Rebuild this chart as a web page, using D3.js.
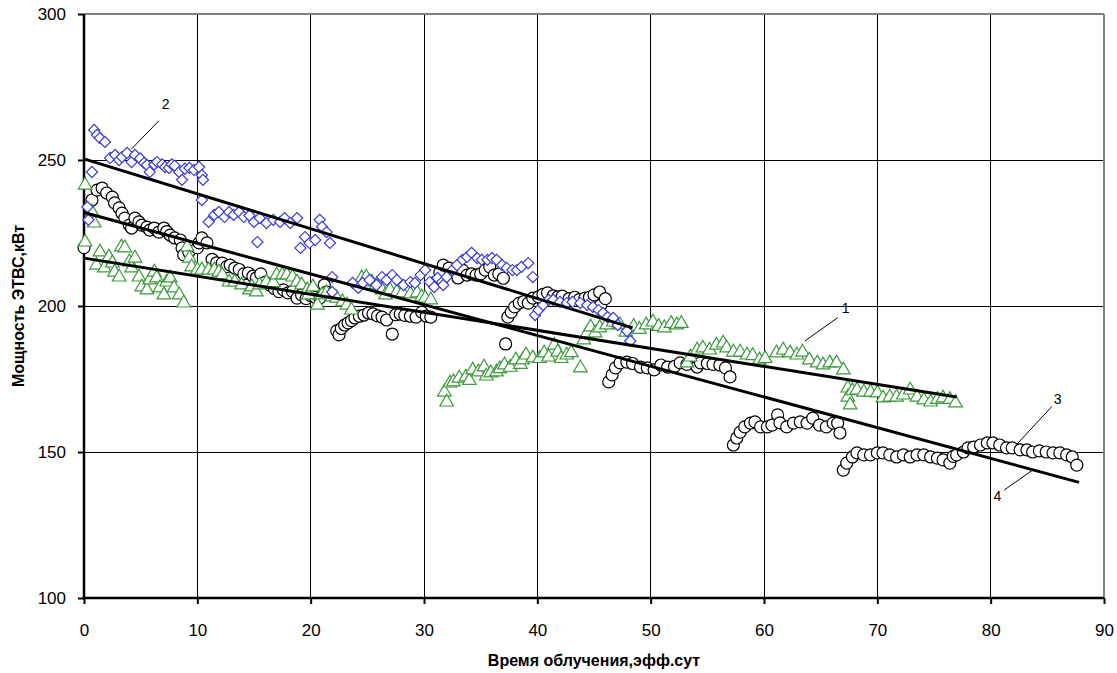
<!DOCTYPE html>
<html>
<head>
<meta charset="utf-8">
<script src="https://cdn.jsdelivr.net/npm/d3@7/dist/d3.min.js"></script>
<style>
  html, body { margin: 0; padding: 0; background: #fff; }
  svg text { font-family: "Liberation Sans", Arial, sans-serif; }
</style>
</head>
<body>
<svg id="chart" width="1117" height="673"></svg>
<script>
// Axis ticks
const xTicks = [0, 10, 20, 30, 40, 50, 60, 70, 80, 90];
const yTicks = [100, 150, 200, 250, 300];

// Series 1 – triangles (время, мощность)
const series1 = [
  [0.1,241.4],[0.1,221.9],[0.7,232.2],[0.9,228.4],[1.1,214.0],[1.4,218.5],[1.8,213.0],[2.2,216.8],
  [2.5,214.7],[2.7,211.6],[3.1,209.9],[3.3,220.2],[3.6,219.9],[4.0,215.1],[4.2,213.0],[4.5,216.4],
  [4.85,209.9],[5.1,206.5],[5.55,205.5],[5.8,208.9],[6.2,211.6],[6.4,209.6],[6.7,206.2],[7.05,203.8],
  [7.3,208.2],[7.6,209.6],[7.95,206.2],[8.4,203.8],[8.8,201.0],[9.1,220.2],[9.3,216.4],[9.5,213.4],
  [10.0,212.3],[10.4,212.3],[11.0,212.3],[11.5,212.3],[11.9,211.6],[12.2,210.6],[12.8,208.2],[13.3,208.2],
  [13.9,207.2],[14.6,205.5],[14.8,206.5],[15.2,204.8],[15.5,207.2],[16.1,208.2],[16.7,208.0],[17.0,210.6],
  [17.5,210.6],[17.9,210.6],[18.4,209.9],[18.8,208.2],[19.2,207.2],[19.7,205.5],[19.8,203.8],[20.2,206.5],
  [20.6,200.3],[21.0,203.8],[21.4,204.5],[21.9,203.1],[22.3,202.7],[22.8,201.4],[23.2,200.3],[23.6,198.6],
  [24.5,209.6],[24.9,209.9],[25.4,208.2],[25.8,207.2],[26.3,205.5],[26.6,203.8],[27.0,205.5],[27.6,204.8],
  [28.1,204.5],[28.8,204.1],[29.4,204.5],[29.8,203.1],[30.1,202.7],[30.6,202.1],
  [31.8,170.5],[32.0,167.1],[32.3,173.6],[32.6,174.0],[33.1,175.3],[33.7,175.7],[34.0,174.5],[34.3,178.1],
  [34.8,177.4],[35.3,179.1],[35.5,176.0],[35.9,177.1],[36.4,177.4],[36.7,178.5],[37.1,179.8],[37.6,179.0],
  [38.1,181.5],[38.5,180.0],[38.7,181.5],[39.0,183.2],[39.6,182.2],[40.2,182.0],[40.6,183.9],[41.0,182.5],
  [41.5,186.6],[41.8,184.2],[42.1,182.0],[42.6,183.2],[43.0,184.0],[43.8,178.8],
  [44.1,188.4],[44.4,190.8],[44.7,192.8],[45.1,190.8],[45.5,192.5],[46.1,193.5],[46.7,194.5],[47.3,193.5],
  [47.8,191.0],[48.5,193.0],[49.0,192.0],[49.6,193.5],[50.2,194.5],[50.7,193.0],[51.2,192.5],[51.8,194.0],
  [52.3,193.5],[52.7,194.0],
  [53.2,180.5],[53.5,182.5],[54.1,184.9],[54.6,185.6],[55.2,184.9],[55.8,186.6],[56.4,187.3],[56.7,185.6],
  [57.3,184.2],[57.9,184.2],[58.5,183.2],[59.0,183.0],[59.6,181.5],[60.1,182.0],
  [61.1,183.9],[61.7,184.9],[62.3,183.9],[62.9,183.2],[63.4,184.2],[64.0,181.5],[64.7,180.5],[65.2,179.8],
  [65.8,180.5],[66.4,180.5],[67.0,178.1],
  [67.4,171.9],[67.4,168.8],[67.6,166.1],[67.8,171.0],[68.2,171.2],[68.8,170.5],[69.4,170.5],[70.0,170.2],
  [70.5,168.5],[71.1,168.8],[71.7,168.8],[72.3,169.5],[72.9,171.2],[73.5,168.8],[74.1,167.8],[74.7,167.1],
  [75.3,168.0],[75.8,168.5],[76.4,168.0],[76.9,166.8]
];

// Series 2 – diamonds
const series2 = [
  [0.3,233.9],[0.4,229.5],[0.7,245.9],[0.9,260.3],[1.15,258.6],[1.4,257.5],[1.85,256.2],[2.3,250.7],
  [2.75,251.7],[3.1,250.0],[3.35,251.0],[3.8,252.4],[4.2,249.3],[4.5,251.7],[4.95,250.5],[5.3,249.0],
  [5.55,248.3],[5.8,245.9],[6.2,248.5],[6.45,249.3],[6.9,248.5],[7.15,247.6],[7.5,247.3],[7.75,248.5],
  [8.0,248.0],[8.4,245.9],[8.65,243.2],[8.9,247.0],[9.3,247.3],[9.7,246.6],[10.15,247.6],[10.4,244.8],
  [10.5,243.2],[10.4,236.3],[11.0,228.8],[11.5,231.2],[11.9,232.2],[12.4,230.5],[12.8,232.2],[13.2,231.2],
  [13.7,232.2],[14.1,230.5],[14.6,231.0],[15.0,228.8],[15.3,221.9],[15.5,230.1],[16.1,228.4],[16.7,229.5],
  [17.3,228.8],[17.7,230.1],[18.2,228.4],[18.8,230.1],[19.1,219.9],[19.5,223.6],[19.9,221.6],[20.4,222.6],
  [20.8,229.5],[21.0,227.1],[21.4,225.3],[21.7,221.6],[21.9,209.9],[21.9,204.8],
  [23.7,207.9],[24.2,206.2],[24.6,207.9],[25.2,208.9],[25.8,207.2],[26.3,209.9],[26.7,208.9],[27.2,210.6],
  [27.6,208.9],[28.2,207.2],[28.8,208.2],[29.2,207.9],[29.7,210.6],[30.1,212.3],[30.5,208.2],[30.9,206.5],
  [31.2,209.6],[31.6,208.2],[31.7,207.2],[32.0,209.9],[32.5,212.3],[32.9,214.0],[33.4,215.8],[33.8,216.8],
  [34.2,218.2],[34.7,216.4],[35.1,215.8],[35.6,215.8],[36.0,216.4],[36.4,215.8],[36.9,214.0],[37.3,213.0],
  [37.8,212.3],[38.2,212.3],[38.6,213.4],[39.2,214.7],[39.6,209.9],
  [39.8,196.9],[40.1,198.6],[40.5,200.3],[41.0,202.1],[41.4,202.1],[42.0,201.4],[42.6,201.0],[43.1,201.4],
  [43.8,201.0],[44.4,200.3],[44.9,199.7],[45.4,198.6],[45.8,197.6],[46.2,196.2],[46.7,195.9],[47.1,193.5],
  [47.9,191.4],[48.2,188.0]
];

// Series 3 – circles
const series3 = [
  [0.0,220.0],[0.7,236.3],[1.15,239.7],[1.6,240.4],[2.0,238.7],[2.5,237.3],[2.7,235.3],[3.1,233.6],
  [3.35,231.8],[3.6,230.1],[4.0,227.7],[4.2,226.7],[4.5,230.1],[4.85,228.8],[5.1,227.7],[5.55,227.0],
  [5.8,226.0],[6.2,226.7],[6.6,225.3],[7.05,226.7],[7.3,225.5],[7.6,224.3],[8.0,223.3],[8.5,222.6],
  [8.65,219.9],[8.8,217.5],[9.25,218.5],[10.0,219.9],[10.15,221.6],[10.4,223.3],[10.85,221.6],
  [11.3,216.0],[11.7,214.8],[12.2,214.7],[12.6,213.5],[12.9,214.0],[13.3,213.0],[13.7,212.5],[14.1,211.0],
  [14.5,211.3],[14.9,210.2],[15.2,209.6],[15.6,211.0],[16.0,208.2],[16.4,207.2],[16.8,206.0],[17.2,204.9],
  [17.6,205.5],[18.0,204.5],[18.4,205.0],[18.8,202.7],[19.2,203.8],[19.6,202.5],[20.0,203.6],[20.4,203.0],
  [20.8,202.7],[21.2,207.2],[21.4,204.8],
  [22.3,191.5],[22.5,190.1],[22.7,192.3],[23.0,193.5],[23.3,194.2],[23.6,195.0],[23.9,195.9],[24.3,196.5],
  [24.7,196.9],[25.1,197.6],[25.5,197.3],[25.9,196.6],[26.3,196.2],[26.7,195.2],[27.2,190.4],[27.5,197.0],
  [27.9,197.2],[28.3,196.8],[28.8,196.5],[29.3,196.2],[29.8,197.9],[30.2,196.5],[30.6,196.2],
  [31.0,208.2],[31.4,211.5],[31.7,214.0],[32.2,213.0],[32.7,211.3],[33.0,209.6],[33.4,212.3],[33.8,210.6],
  [34.2,211.0],[34.6,210.6],[35.0,211.0],[35.4,212.3],[35.8,213.4],[36.2,210.6],[36.6,211.0],[37.0,209.5],
  [37.2,187.0],
  [37.4,196.2],[37.7,197.9],[38.0,199.7],[38.4,201.0],[38.8,201.5],[39.2,201.0],[39.6,202.7],[40.1,203.1],
  [40.5,204.0],[40.9,204.5],[41.4,203.5],[41.8,203.1],[42.2,203.4],[42.8,202.5],[43.3,203.0],[43.7,202.2],
  [44.2,202.7],[44.6,203.0],[45.0,203.8],[45.5,204.8],[45.6,200.3],[46.0,202.5],
  [46.3,174.0],[46.6,176.4],[46.9,178.8],[47.3,180.5],[47.9,180.8],[48.4,180.3],[49.1,179.1],[49.7,178.8],
  [50.3,178.1],[50.9,179.8],[51.5,179.1],[52.1,179.3],[52.6,180.5],[53.2,180.0],[54.1,179.1],[54.4,180.5],
  [55.0,180.3],[55.5,180.0],[56.1,179.8],[56.6,178.8],[57.0,175.7],
  [57.3,152.4],[57.6,154.8],[57.9,156.8],[58.3,158.6],[58.8,159.9],[59.2,160.3],[59.7,158.6],[60.3,158.6],
  [60.7,159.2],[61.2,162.7],[61.4,160.0],[62.0,158.6],[62.6,159.9],[63.2,160.3],[63.8,159.9],[64.3,161.6],
  [64.9,159.2],[65.5,158.6],[66.1,159.9],[66.5,159.9],[66.7,156.5],
  [67.0,143.8],[67.3,146.2],[67.8,148.3],[68.2,149.7],[68.8,149.0],[69.4,149.0],[70.0,149.7],[70.5,149.7],
  [71.1,149.0],[71.7,148.3],[72.3,149.0],[72.9,148.3],[73.5,149.0],[74.1,149.0],[74.7,148.3],[75.3,147.9],
  [75.8,147.3],[76.4,146.2],[76.7,148.5],[77.0,149.0],[77.6,150.0],[78.0,151.4],[78.5,151.7],[79.1,152.4],
  [79.7,153.1],[80.2,153.1],[80.8,152.4],[81.4,151.4],[81.9,151.4],[82.6,150.7],[83.2,150.7],[83.7,150.0],
  [84.3,150.4],[84.9,150.0],[85.5,149.7],[86.1,149.7],[86.7,149.0],[87.2,148.3],[87.6,145.5]
];

// Linear trend lines: [x0, y0, x1, y1]
const trend1 = [0, 216.4, 77.0, 168.8];
const trend2 = [0, 250.4, 48.4, 192.5];
const trend4 = [0, 232.0, 87.8, 139.6];

// Callout labels: text, label position, leader from -> to (data units)
const calloutNames = ["2", "1", "3", "4"];
const calloutText  = [[7.2, 269.3], [67.2, 199.3], [85.9, 168.1], [80.6, 135.1]];
const calloutFrom  = [[6.6, 263.4], [66.5, 196.0], [85.4, 165.6], [83.7, 143.8]];
const calloutTo    = [[4.2, 253.8], [63.6, 188.0], [82.3, 152.6], [81.2, 137.0]];

const svg = d3.select("#chart");
const plotLeft = 84, plotRight = 1104, plotTop = 14, plotBottom = 598;

const x = d3.scaleLinear().domain([0, 90]).range([plotLeft, plotRight]);
const y = d3.scaleLinear().domain([100, 300]).range([plotBottom, plotTop]);

// Grid
const grid = svg.append("g");
grid.selectAll("line.vx").data(xTicks.filter(d => d > 0 && d < 90)).enter().append("line")
  .attr("x1", d => x(d)).attr("x2", d => x(d)).attr("y1", plotTop).attr("y2", plotBottom)
  .attr("stroke", "#000").attr("stroke-width", 1).attr("shape-rendering", "crispEdges");
grid.selectAll("line.hy").data(yTicks.filter(d => d > 100 && d < 300)).enter().append("line")
  .attr("x1", plotLeft).attr("x2", plotRight).attr("y1", d => y(d)).attr("y2", d => y(d))
  .attr("stroke", "#000").attr("stroke-width", 1).attr("shape-rendering", "crispEdges");
// Frame top/right
grid.append("line").attr("x1", plotLeft).attr("x2", plotRight).attr("y1", y(300)).attr("y2", y(300))
  .attr("stroke", "#808080").attr("stroke-width", 1.5).attr("shape-rendering", "crispEdges");
grid.append("line").attr("x1", x(90)).attr("x2", x(90)).attr("y1", plotTop).attr("y2", plotBottom)
  .attr("stroke", "#808080").attr("stroke-width", 1.5).attr("shape-rendering", "crispEdges");

// Axes
const xAxis = d3.axisBottom(x).tickValues(xTicks).tickSize(6).tickPadding(20).tickFormat(d3.format("d"));
const yAxis = d3.axisLeft(y).tickValues(yTicks).tickSize(6).tickPadding(12).tickFormat(d3.format("d"));
const gx = svg.append("g").attr("transform", `translate(0,${plotBottom})`).call(xAxis);
const gy = svg.append("g").attr("transform", `translate(${plotLeft},0)`).call(yAxis);
[gx, gy].forEach(g => {
  g.select(".domain").attr("stroke", "#000").attr("stroke-width", 2.5);
  g.selectAll(".tick line").attr("stroke", "#000").attr("stroke-width", 2);
  g.selectAll(".tick text").attr("fill", "#000").style("font-size", "17px")
    .style("font-family", "'Liberation Sans', Arial, sans-serif");
});
gx.select(".domain").attr("d", `M${plotLeft},0H${plotRight}`);
gy.select(".domain").attr("d", `M0,${plotBottom}V${plotTop}`);

// Markers
const plot = svg.append("g");
plot.selectAll("circle.s3").data(series3).enter().append("circle")
  .attr("cx", d => x(d[0])).attr("cy", d => y(d[1])).attr("r", 6)
  .attr("fill", "#fff").attr("stroke", "#000").attr("stroke-width", 1.2);

const triSym = d3.symbol().type(d3.symbolTriangle).size(80);
plot.selectAll("path.s1").data(series1).enter().append("path")
  .attr("d", triSym).attr("transform", d => `translate(${x(d[0])},${y(d[1])})`)
  .attr("fill", "#fff").attr("stroke", "#3a9a3a").attr("stroke-width", 1.2);

const diaSym = d3.symbol().type(d3.symbolSquare).size(62);
plot.selectAll("path.s2").data(series2).enter().append("path")
  .attr("d", diaSym).attr("transform", d => `translate(${x(d[0])},${y(d[1])}) rotate(45)`)
  .attr("fill", "#fff").attr("stroke", "#3b3bd6").attr("stroke-width", 1.2);

// Trend lines
const trends = [trend1, trend2, trend4];
plot.selectAll("line.tr").data(trends).enter().append("line")
  .attr("x1", d => x(d[0])).attr("y1", d => y(d[1])).attr("x2", d => x(d[2])).attr("y2", d => y(d[3]))
  .attr("stroke", "#000").attr("stroke-width", 3);

// Callouts
const call = svg.append("g");
calloutNames.forEach((name, i) => {
  call.append("line")
    .attr("x1", x(calloutFrom[i][0])).attr("y1", y(calloutFrom[i][1]))
    .attr("x2", x(calloutTo[i][0])).attr("y2", y(calloutTo[i][1]))
    .attr("stroke", "#000").attr("stroke-width", 1);
  call.append("text")
    .attr("x", x(calloutText[i][0])).attr("y", y(calloutText[i][1]))
    .attr("text-anchor", "middle").attr("dominant-baseline", "central")
    .style("font-size", "14px").attr("fill", "#000").text(name);
});

// Axis titles
svg.append("text").attr("x", 594).attr("y", 666)
  .attr("text-anchor", "middle").style("font-size", "16px").style("font-weight", "bold")
  .text("Время облучения,эфф.сут");
svg.append("text").attr("transform", `translate(24,${(plotTop + plotBottom) / 2}) rotate(-90)`)
  .attr("text-anchor", "middle").style("font-size", "16px").style("font-weight", "bold")
  .text("Мощность ЭТВС,кВт");
</script>
</body>
</html>
